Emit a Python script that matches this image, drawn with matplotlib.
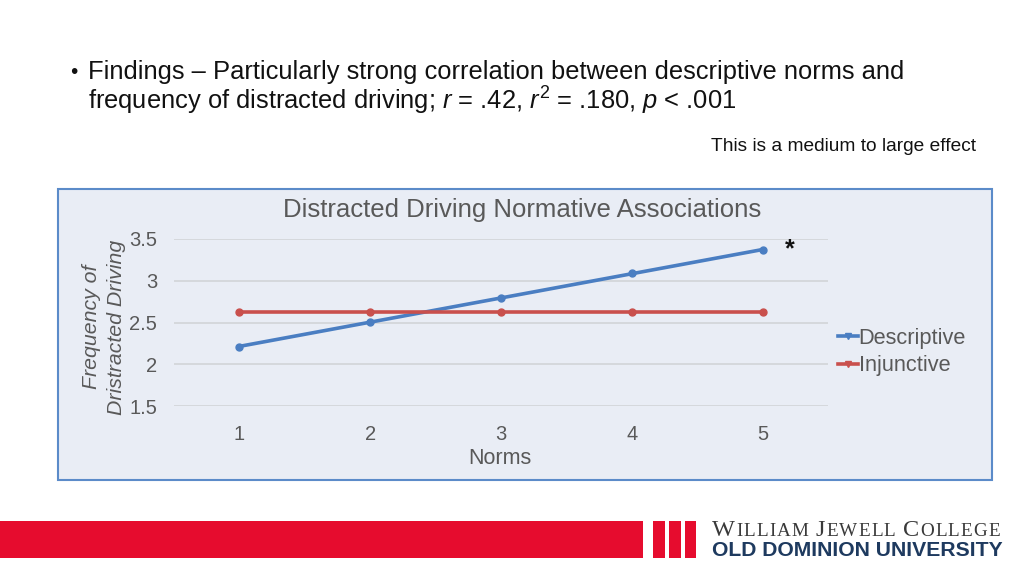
import numpy as np
import matplotlib
matplotlib.use("Agg")
import matplotlib.pyplot as plt
from matplotlib.patches import Rectangle

# ---- data ----
norms = [1, 2, 3, 4, 5]
descriptive = [2.21, 2.51, 2.79, 3.09, 3.37]
injunctive = [2.63, 2.63, 2.63, 2.63, 2.63]
y_ticks = [1.5, 2, 2.5, 3, 3.5]
y_tick_labels = ["1.5", "2", "2.5", "3", "3.5"]
series_names = ["Descriptive", "Injunctive"]

W, H = 1024, 576
plt.rcParams['font.family'] = ['Liberation Sans', 'DejaVu Sans']
plt.rcParams['mathtext.fontset'] = 'custom'
plt.rcParams['mathtext.rm'] = 'Liberation Sans'
plt.rcParams['mathtext.it'] = 'Liberation Sans:italic'

fig = plt.figure(figsize=(W / 100, H / 100), dpi=100)
fig.patch.set_facecolor('white')

def fx(px):
    return px / W

def fy(py):
    return 1 - py / H

# ---- slide text ----
fig.text(fx(70), fy(72), "\u2022", fontsize=15, va='center', ha='left', color='#111111')
fig.text(fx(88), fy(72), "Findings \u2013 Particularly strong correlation between descriptive norms and",
         fontsize=18.4, va='center', ha='left', color='#111111')
fig.text(fx(88), fy(101),
         r"frequency of distracted driving; $r$ = .42, $r^2$ = .180, $p$ < .001",
         fontsize=18.4, va='center', ha='left', color='#111111')
fig.text(fx(976), fy(147), "This is a medium to large effect", fontsize=13.8,
         va='center', ha='right', color='#111111')

# ---- chart frame ----
frame = Rectangle((fx(58), fy(480)), fx(992) - fx(58), fy(189) - fy(480),
                  transform=fig.transFigure, facecolor='#e9edf5', edgecolor='#5b8bc9',
                  linewidth=1.5, zorder=-10)
fig.patches.append(frame)

ax = fig.add_axes([fx(174), fy(406), fx(828) - fx(174), fy(239) - fy(406)])
ax.set_facecolor('none')
ax.set_xlim(0.5, 5.5)
ax.set_ylim(1.5, 3.5)
for s in ax.spines.values():
    s.set_visible(False)
ax.set_yticks(y_ticks)
ax.set_yticklabels(y_tick_labels)
ax.set_xticks(norms)
ax.set_xticklabels([str(n) for n in norms])
ax.tick_params(length=0, labelsize=14.5, labelcolor='#595959')
ax.tick_params(axis='y', pad=12)
ax.tick_params(axis='x', pad=14)
ax.yaxis.grid(True, color='#d2d4d8', linewidth=1.2)
ax.set_axisbelow(True)

blue = '#4a7ec2'
red = '#c9504d'
x = np.array(norms)
for vals, col, name in [(descriptive, blue, series_names[0]), (injunctive, red, series_names[1])]:
    k, b = np.polyfit(x, vals, 1)
    ax.plot(x, k * x + b, color=col, linewidth=2.6, solid_capstyle='round', label=name)
    ax.plot(x, vals, 'o', color=col, markersize=5)

h1, = ax.plot([], [], color=blue, linewidth=2.6, marker='v', markersize=5)
h2, = ax.plot([], [], color=red, linewidth=2.6, marker='v', markersize=5)
leg = fig.legend([h1, h2], series_names, loc='center left',
                 bbox_to_anchor=(fx(838), fy(352)), frameon=False, fontsize=15.7,
                 handlelength=0.9, handletextpad=0.05, labelspacing=0.3,
                 labelcolor='#595959', borderaxespad=0, borderpad=0)

fig.text(fx(522), fy(210), "Distracted Driving Normative Associations", fontsize=18.5,
         color='#595959', ha='center', va='center')
fig.text(fx(500), fy(458), "Norms", fontsize=15.5, color='#595959', ha='center', va='center')
fig.text(fx(104), fy(327), "Frequency of\nDristracted Driving", fontsize=15.3, style='italic',
         color='#595959', ha='center', va='center', rotation=90, multialignment='center',
         linespacing=1.4)
fig.text(fx(790), fy(249), "*", fontsize=18, fontweight='bold', color='#111111',
         ha='center', va='center')

# ---- footer ----
red_band = '#e60c2e'
fig.patches.append(Rectangle((0, fy(558)), fx(643), fy(521) - fy(558),
                             transform=fig.transFigure, facecolor=red_band, edgecolor='none'))
for x0, x1 in [(653, 665), (669, 681), (685, 696)]:
    fig.patches.append(Rectangle((fx(x0), fy(558)), fx(x1) - fx(x0), fy(521) - fy(558),
                                 transform=fig.transFigure, facecolor=red_band, edgecolor='none'))

# small caps line, tracked to the logo width
renderer = fig.canvas.get_renderer()
words = ["William", "Jewell", "College"]
big, small = 17.5, 13.8
chars = []
for wi, wd in enumerate(words):
    for ci, ch in enumerate(wd):
        chars.append((ch.upper(), ci == 0))
    if wi < len(words) - 1:
        chars.append((" ", False))
objs = []
for ch, isbig in chars:
    t = fig.text(0, fy(536), ch, fontsize=big if isbig else small,
                 family='Liberation Serif', color='#3a3a3a', ha='left', va='baseline')
    objs.append(t)
widths = [t.get_window_extent(renderer=renderer).width if t.get_text() != " " else 5.0
          for t in objs]
x_start, x_end = 712, 1000
extra = (x_end - x_start - sum(widths)) / (len(objs) - 1)
cur = x_start
for t, w in zip(objs, widths):
    t.set_x(fx(cur))
    cur += w + extra
fig.text(fx(712), fy(551), "OLD DOMINION UNIVERSITY", fontsize=15.2, fontweight='bold',
         color='#1e3a5f', ha='left', va='center')

fig.savefig("out.png", dpi=100)
